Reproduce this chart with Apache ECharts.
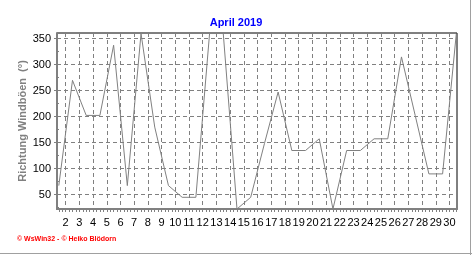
<!DOCTYPE html>
<html><head><meta charset="utf-8">
<script src="https://cdn.jsdelivr.net/npm/echarts@6/dist/echarts.min.js"></script>
<style>html,body{margin:0;padding:0;background:#fff}#c{width:472px;height:255px}</style>
</head><body><div id="c"></div>
<script>
// Day of April 2019
const days = [1,2,3,4,5,6,7,8,9,10,11,12,13,14,15,16,17,18,19,20,21,22,23,24,25,26,27,28,29,30];
// Direction of maximum gust (degrees)
const gustDirection = [67.5,270,202.5,202.5,337.5,67.5,360,180,67.5,45,45,360,360,22.5,45,148,247.5,135,135,157.5,22.5,135,135,157.5,157.5,315,202.5,90,90,360];
// x tick labels (day boundaries)
const xTickDays = [2,3,4,5,6,7,8,9,10,11,12,13,14,15,16,17,18,19,20,21,22,23,24,25,26,27,28,29,30];
// y tick labels
const yTicks = [50,100,150,200,250,300,350];
const yMinorTicks = [25,75,125,175,225,275,325];

const X_MIN = 1.37, X_MAX = 30.55;
const Y_MIN = 22.5, Y_MAX = 361;
const GRAY = '#808080';

const xMinor = [];
for (let v = 1.5; v <= 30.5 + 1e-9; v += 0.25) xMinor.push(+v.toFixed(2));

const chart = echarts.init(document.getElementById('c'), null, {renderer: 'canvas'});
const FONT = 'Liberation Sans, Arial, sans-serif';
chart.setOption({
  animation: false,
  title: {
    text: 'April 2019', left: 'center', top: 12,
    textStyle: {color: '#0000ff', fontSize: 11, fontWeight: 'bold', fontFamily: FONT}
  },
  grid: {left: 57, right: 15, top: 33, bottom: 46, show: true, borderColor: '#000', borderWidth: 1, backgroundColor: 'transparent'},
  xAxis: [{
    type: 'value', min: X_MIN, max: X_MAX, z: 3,
    axisLine: {show: true, lineStyle: {color: GRAY, width: 2}},
    axisTick: {show: false, customValues: xTickDays},
    axisLabel: {customValues: xTickDays, interval: 0, margin: 8, color: '#000', fontSize: 11, fontFamily: FONT,
      showMinLabel: true, showMaxLabel: true},
    splitLine: {show: true, lineStyle: {color: GRAY, type: [4, 3], width: 1}}
  }, {
    type: 'value', min: X_MIN, max: X_MAX, position: 'bottom', z: 3,
    axisLine: {show: true, lineStyle: {color: GRAY, width: 2}},
    axisTick: {show: true, customValues: xMinor, length: 3, lineStyle: {color: GRAY}},
    axisLabel: {show: false},
    splitLine: {show: false}
  }],
  yAxis: [{
    type: 'value', min: Y_MIN, max: Y_MAX, z: 3,
    name: 'Richtung Windböen  (°)', nameLocation: 'middle', nameGap: 29, nameMoveOverlap: false,
    nameTextStyle: {color: GRAY, fontSize: 11, fontWeight: 'bold', fontFamily: FONT},
    axisLine: {show: true, lineStyle: {color: GRAY, width: 2}},
    axisTick: {show: true, customValues: yTicks, length: 3, lineStyle: {color: GRAY}},
    axisLabel: {customValues: yTicks, margin: 6, color: '#000', fontSize: 11, fontFamily: FONT},
    splitLine: {show: true, lineStyle: {color: GRAY, type: [4, 3], width: 1}}
  }, {
    type: 'value', min: Y_MIN, max: Y_MAX, position: 'left', z: 3,
    axisLine: {show: false},
    axisTick: {show: true, inside: true, customValues: yMinorTicks, length: 2, lineStyle: {color: GRAY}},
    axisLabel: {show: false},
    splitLine: {show: false}
  }],
  graphic: [
    {type: 'text', left: 17, top: 236, style: {text: '© WsWin32 - © Heiko Blödorn', fill: '#ff0000', font: 'bold 7px ' + FONT}},
    {type: 'line', shape: {x1: 470.5, y1: 0, x2: 470.5, y2: 255}, style: {stroke: '#a0a0a0', lineWidth: 1}},
    {type: 'line', shape: {x1: 0, y1: 253.5, x2: 472, y2: 253.5}, style: {stroke: '#a0a0a0', lineWidth: 1}}
  ],
  series: [{
    type: 'line', xAxisIndex: 0, yAxisIndex: 0,
    data: days.map((d, i) => [d + 0.5, gustDirection[i]]),
    showSymbol: false, symbol: 'none',
    lineStyle: {color: GRAY, width: 1}
  }]
});
</script></body></html>
